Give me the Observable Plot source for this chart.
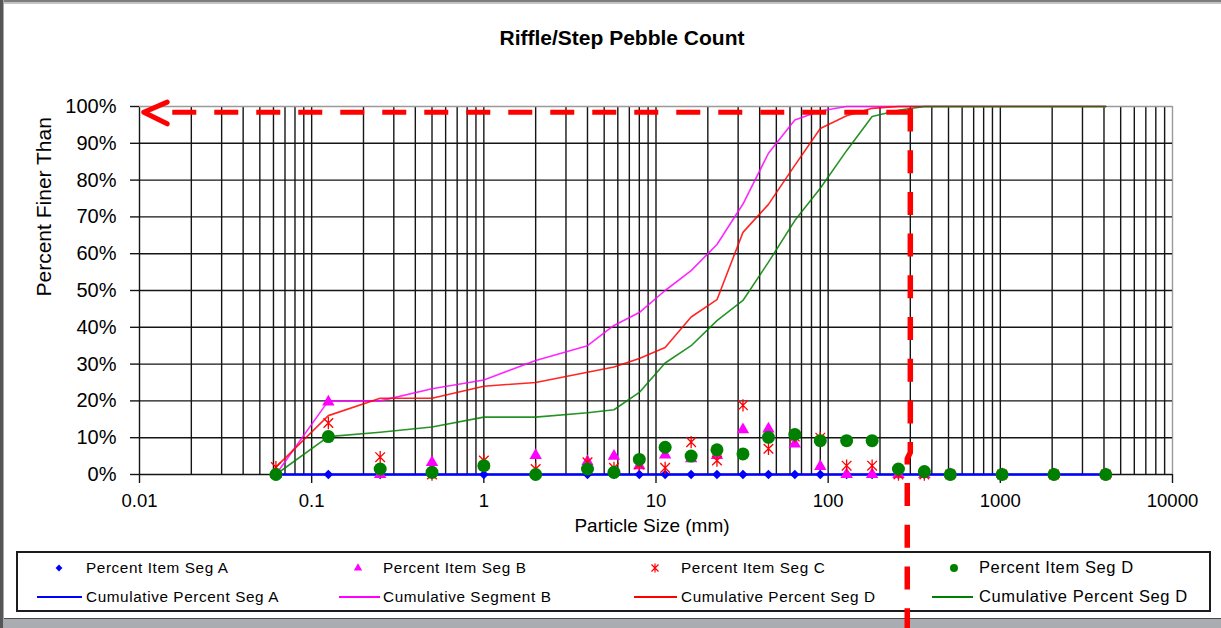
<!DOCTYPE html>
<html>
<head>
<meta charset="utf-8">
<script src="https://cdn.jsdelivr.net/npm/d3@7"></script>
<script src="https://cdn.jsdelivr.net/npm/@observablehq/plot@0.6"></script>
<style>
  html, body { margin: 0; padding: 0; background: #fff; }
  #page {
    position: relative; width: 1221px; height: 628px; overflow: hidden;
    background: #fff; font-family: "Liberation Sans", Arial, sans-serif; color: #000;
  }
  .edge { position: absolute; }
  #title {
    position: absolute; left: 0; top: 27px; width: 1244px; text-align: center;
    font-weight: bold; font-size: 21px; line-height: 1;
  }
  #legend {
    position: absolute; left: 16px; top: 551px; width: 1195px; height: 61px;
    box-sizing: border-box; border: 2px solid #1c1c1c; background: #fff;
  }
  .lg-text { position: absolute; white-space: nowrap; line-height: 1; font-size: 15px; letter-spacing: 0.6px; }
  .lg-line { position: absolute; height: 1.5px; }
  .lg-sym { position: absolute; overflow: visible; }
  #chart { position: absolute; left: 0; top: 0; z-index: 2; pointer-events: none; }
</style>
</head>
<body>
<div id="page">
  <div class="edge" style="left:0;top:0;width:1221px;height:2px;background:#7d7d7d"></div>
  <div class="edge" style="left:0;top:2px;width:1221px;height:2px;background:#c4c4c4"></div>
  <div class="edge" style="left:0;top:0;width:3px;height:628px;background:#565656"></div>
  <div class="edge" style="left:3px;top:0;width:1px;height:628px;background:#a8a8a8"></div>
  <div class="edge" style="left:4px;top:618px;width:1217px;height:1px;background:#4a4a4a"></div>
  <div class="edge" style="left:4px;top:619px;width:1217px;height:9px;background:#a9adb2"></div>
  <div id="title">Riffle/Step Pebble Count</div>
  <div id="legend"></div>
  <div id="chart"></div>
</div>
<script>
// Sieve size classes (mm)
const sizes = [0.062, 0.125, 0.25, 0.5, 1, 2, 4, 5.7, 8, 11.3, 16, 22.6, 32, 45, 64, 90, 128, 180, 256, 362, 512, 1024, 2048, 4096];

// Percent of items in each size class, per segment
const itemA = [0, 0, 0, 0, 0, 0, 0, 0, 0, 0, 0, 0, 0, 0, 0, 0, 0, 0, 0, 0, 0, 0, 0, 0];
const itemB = [0, 19.7, 0, 3.3, 2.4, 5.2, 3.5, 5, 2.4, 5.3, 4.3, 5.2, 12.2, 12.4, 8.3, 2.2, 0, 0, 0, 0, 0, 0, 0, 0];
const itemC = [2, 14, 4.7, 0, 3.8, 1.5, 3.3, 1.8, 2.7, 1.8, 8.8, 3.8, 18.8, 7, 10.3, 10, 2.4, 2.4, 0, 0, 0, 0, 0, 0];
const itemD = [0, 10.3, 1.5, 0.6, 2.4, 0, 1.5, 0.6, 4.1, 7.4, 5, 6.7, 5.6, 10.1, 10.9, 9.2, 9.2, 9.2, 1.5, 0.8, 0, 0, 0, 0];

// Cumulative percent finer than each size, per segment
const cumA = [0, 0, 0, 0, 0, 0, 0, 0, 0, 0, 0, 0, 0, 0, 0, 0, 0, 0, 0, 0, 0, 0, 0, 0];
const cumB = [0, 20, 20, 23.3, 25.7, 31, 35, 40.5, 44, 50, 55.4, 62.5, 73.5, 87.3, 96.3, 98.8, 100, 100, 100, 100, 100, 100, 100, 100];
const cumC = [2, 16, 20.7, 20.7, 24, 25, 27.8, 29.2, 31.5, 34.5, 42.8, 47.5, 65.8, 73.4, 84, 94, 97.5, 99.5, 100, 100, 100, 100, 100, 100];
const cumD = [0, 10.3, 11.5, 12.9, 15.6, 15.6, 16.8, 17.6, 22.3, 30.3, 35, 41.8, 47.3, 57.7, 69, 77.8, 88, 97.3, 99, 100, 100, 100, 100, 100];

// Axis ticks and labels
const xTicks = [0.01, 0.1, 1, 10, 100, 1000, 10000];
const xTickLabels = ["0.01", "0.1", "1", "10", "100", "1000", "10000"];
const yTicks = [0, 10, 20, 30, 40, 50, 60, 70, 80, 90, 100];
const yTickLabels = ["0%", "10%", "20%", "30%", "40%", "50%", "60%", "70%", "80%", "90%", "100%"];

// Hand-drawn D100 marker: arrow at the 100% line and a drop line at 300 mm
const markerHX = [0.0155, 300];
const markerHY = [98.45, 98.45];
const markerVX = [300, 300, 288, 288];
const markerVY = [99.46, 6, 4.3, -42];
const arrowX = [0.01448, 0.01059, 0.01448];
const arrowY = [101.2, 98.45, 95.3];

// Legend entries
const markerLabels = ["Percent Item Seg A", "Percent Item Seg B", "Percent Item Seg C", "Percent Item Seg D"];
const lineLabels = ["Cumulative Percent Seg A", "Cumulative Segment B", "Cumulative Percent Seg D", "Cumulative Percent Seg D"];
const seriesColors = ["#0000ff", "#ff00ff", "#ff0000", "#008000"];

// Excel-style star marker: an X crossed by a vertical stroke
const excelStar = {
  draw(ctx, size) {
    const r = Math.sqrt(size) * 0.58;
    const d = r * 0.78;
    ctx.moveTo(-d, -d); ctx.lineTo(d, d);
    ctx.moveTo(-d, d); ctx.lineTo(d, -d);
    ctx.moveTo(0, -r); ctx.lineTo(0, r);
  }
};

const rows = sizes.map((size, i) => ({
  size,
  itemA: itemA[i], itemB: itemB[i], itemC: itemC[i], itemD: itemD[i],
  cumA: cumA[i], cumB: cumB[i], cumC: cumC[i], cumD: cumD[i]
}));

const xLabel = new Map(xTicks.map((t, i) => [t, xTickLabels[i]]));
const yLabel = new Map(yTicks.map((t, i) => [t, yTickLabels[i]]));

// Log grid: every integer multiple within each decade
const gridX = [];
for (let e = -2; e < 4; e++) for (let k = 1; k < 10; k++) gridX.push(+(k * Math.pow(10, e)).toPrecision(6));

const gridColor = "#151515";
const edgeColor = "#9a9a9a";

const chart = Plot.plot({
  width: 1221,
  height: 628,
  marginLeft: 139,
  marginRight: 49,
  marginTop: 106,
  marginBottom: 154,
  style: {
    background: "transparent",
    overflow: "visible",
    fontFamily: "'Liberation Sans', Arial, sans-serif",
    color: "#000"
  },
  x: { type: "log", domain: [0.01, 10000] },
  y: { domain: [0, 100], label: null },
  marks: [
    Plot.ruleX(gridX, { y1: 0, y2: 100, stroke: gridColor, strokeWidth: 1.4 }),
    Plot.ruleX([10000], { y1: 0, y2: 100, stroke: edgeColor, strokeWidth: 1.4 }),
    Plot.ruleY(yTicks.filter(d => d < 100), { x1: 0.01, x2: 10000, stroke: gridColor, strokeWidth: 1.4 }),
    Plot.ruleY([100], { x1: 0.01, x2: 10000, stroke: edgeColor, strokeWidth: 1.4 }),
    Plot.axisX({
      ticks: xTicks, tickFormat: d => xLabel.get(d), tickSize: 9, tickPadding: 10,
      fontSize: 18.5, label: null, stroke: gridColor, strokeWidth: 1.4
    }),
    Plot.axisY({
      ticks: yTicks, tickFormat: d => yLabel.get(d), tickSize: 9, tickPadding: 14,
      fontSize: 20, label: null, stroke: gridColor, strokeWidth: 1.4
    }),
    Plot.text(["Particle Size (mm)"], { text: d => d, frameAnchor: "bottom", dx: -4, dy: 57, fontSize: 19 }),
    Plot.text(["Percent Finer Than"], { text: d => d, frameAnchor: "left", dx: -95, dy: 6, rotate: -90, fontSize: 21 }),

    // cumulative curves
    Plot.line(rows, { x: "size", y: "cumA", stroke: seriesColors[0], strokeWidth: 2.4 }),
    Plot.line(rows, { x: "size", y: "cumB", stroke: seriesColors[1], strokeWidth: 1.6, strokeOpacity: 0.85 }),
    Plot.line(rows, { x: "size", y: "cumC", stroke: seriesColors[2], strokeWidth: 1.6, strokeOpacity: 0.85 }),
    Plot.line(rows, { x: "size", y: "cumD", stroke: seriesColors[3], strokeWidth: 1.6, strokeOpacity: 0.85 }),

    // per-class percentages
    Plot.dot(rows, { x: "size", y: "itemA", symbol: "diamond2", fill: seriesColors[0], stroke: "none", r: 4.3 }),
    Plot.dot(rows, { x: "size", y: "itemB", symbol: "triangle", fill: seriesColors[1], stroke: "none", r: 4.6 }),
    Plot.dot(rows, { x: "size", y: "itemC", symbol: excelStar, fill: "none", stroke: seriesColors[2], strokeWidth: 1.3, r: 6 }),
    Plot.dot(rows, { x: "size", y: "itemD", symbol: "circle", fill: seriesColors[3], stroke: "none", r: 6.5 }),

    // D100 marker
    Plot.line(markerHX.map((x, i) => ({ x, y: markerHY[i] })), {
      x: "x", y: "y", stroke: "#ff0000", strokeWidth: 5, strokeDasharray: "24 18", strokeLinecap: "butt"
    }),
    Plot.line(markerVX.map((x, i) => ({ x, y: markerVY[i] })), {
      x: "x", y: "y", stroke: "#ff0000", strokeWidth: 5.5, strokeDasharray: "23 18.7", strokeLinecap: "butt", strokeLinejoin: "miter"
    }),
    Plot.line(arrowX.map((x, i) => ({ x, y: arrowY[i] })), {
      x: "x", y: "y", stroke: "#ff0000", strokeWidth: 5, strokeLinecap: "round", strokeLinejoin: "round"
    })
  ]
});
document.getElementById("chart").append(chart);

// Legend: two rows (markers, lines) by four columns
const page = document.getElementById("page");
const colMarkerX = [59, 358, 655, 954];
const colTextX = [86, 383, 681, 979];
const colLineX = [[37, 82], [339, 380], [634, 677], [932, 973]];
const colFont = [15.3, 15.3, 15.3, 16.5];
const rowY = [568, 597];
const legendSymbols = [
  { type: d3.symbolDiamond2, fill: true, size: 30 },
  { type: d3.symbolTriangle, fill: true, size: 30 },
  { type: excelStar, fill: false, size: 60 },
  { type: d3.symbolCircle, fill: true, size: 50 }
];

markerLabels.forEach((label, i) => {
  const s = legendSymbols[i];
  const svg = d3.create("svg").attr("class", "lg-sym")
    .attr("width", 16).attr("height", 16)
    .style("left", (colMarkerX[i] - 8) + "px").style("top", (rowY[0] - 8) + "px");
  svg.append("path")
    .attr("transform", "translate(8,8)")
    .attr("d", d3.symbol(s.type, s.size)())
    .attr("fill", s.fill ? seriesColors[i] : "none")
    .attr("stroke", s.fill ? "none" : seriesColors[i])
    .attr("stroke-width", 1.2);
  page.append(svg.node());

  const t = document.createElement("div");
  t.className = "lg-text";
  t.textContent = label;
  t.style.fontSize = colFont[i] + "px";
  t.style.left = colTextX[i] + "px";
  t.style.top = (rowY[0] - colFont[i] * 0.55) + "px";
  page.append(t);
});

lineLabels.forEach((label, i) => {
  const l = document.createElement("div");
  l.className = "lg-line";
  l.style.left = colLineX[i][0] + "px";
  l.style.width = (colLineX[i][1] - colLineX[i][0]) + "px";
  l.style.top = (rowY[1] - 0.75) + "px";
  l.style.background = seriesColors[i];
  page.append(l);

  const t = document.createElement("div");
  t.className = "lg-text";
  t.textContent = label;
  t.style.fontSize = colFont[i] + "px";
  t.style.left = colTextX[i] + "px";
  t.style.top = (rowY[1] - colFont[i] * 0.55) + "px";
  page.append(t);
});
</script>
</body>
</html>
